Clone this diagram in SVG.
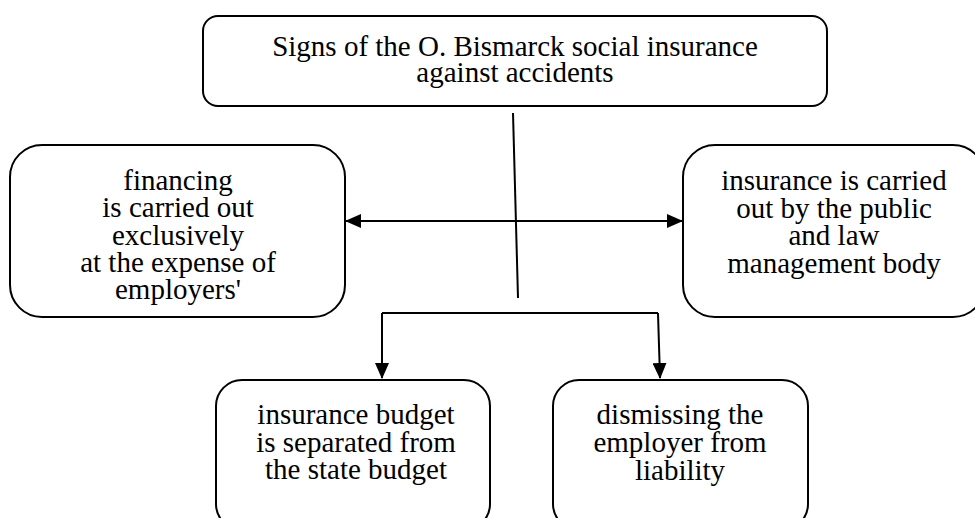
<svg xmlns="http://www.w3.org/2000/svg" width="975" height="518" viewBox="0 0 975 518">
<style>
.box{fill:#fff;stroke:#000;stroke-width:2}
.t{font-family:"Liberation Serif","Times New Roman",serif;font-size:29px;fill:#000;text-anchor:middle}
.c{fill:none;stroke:#000;stroke-width:2}
</style>
<defs>
<marker id="ah" markerUnits="userSpaceOnUse" markerWidth="16" markerHeight="14" refX="15" refY="7" orient="auto-start-reverse" viewBox="0 0 16 14">
<path d="M0,0 L16,7 L0,14 z" fill="#000"/>
</marker>
</defs>
<rect width="975" height="518" fill="#fff"/>
<g id="connectors">
<line class="c" x1="513" y1="113" x2="518" y2="298"/>
<line class="c" x1="346" y1="221" x2="682" y2="221" marker-start="url(#ah)" marker-end="url(#ah)"/>
<path class="c" d="M382,313 L658,313"/>
<line class="c" x1="382" y1="313" x2="382" y2="378" marker-end="url(#ah)"/>
<line class="c" x1="658" y1="313" x2="660" y2="378" marker-end="url(#ah)"/>
</g>
<g id="top">
<rect class="box" x="203" y="16" width="624" height="90" rx="15"/>
<text class="t" x="515" y="56">Signs of the O. Bismarck social insurance</text>
<text class="t" x="515" y="82">against accidents</text>
</g>
<g id="left">
<rect class="box" x="10" y="145" width="335" height="172" rx="32"/>
<text class="t" x="178" y="190">financing</text>
<text class="t" x="178" y="217">is carried out</text>
<text class="t" x="178" y="245">exclusively</text>
<text class="t" x="178" y="272">at the expense of</text>
<text class="t" x="178" y="299">employers'</text>
</g>
<g id="right">
<rect class="box" x="683" y="145" width="302" height="172" rx="32"/>
<text class="t" x="834" y="190">insurance is carried</text>
<text class="t" x="834" y="218">out by the public</text>
<text class="t" x="834" y="245">and law</text>
<text class="t" x="834" y="273">management body</text>
</g>
<g id="bottomLeft">
<rect class="box" x="216" y="380" width="274" height="150" rx="26"/>
<text class="t" x="356" y="424">insurance budget</text>
<text class="t" x="356" y="452">is separated from</text>
<text class="t" x="356" y="479">the state budget</text>
</g>
<g id="bottomRight">
<rect class="box" x="553" y="380" width="255" height="150" rx="26"/>
<text class="t" x="680" y="424">dismissing the</text>
<text class="t" x="680" y="452">employer from</text>
<text class="t" x="680" y="480">liability</text>
</g>
</svg>
